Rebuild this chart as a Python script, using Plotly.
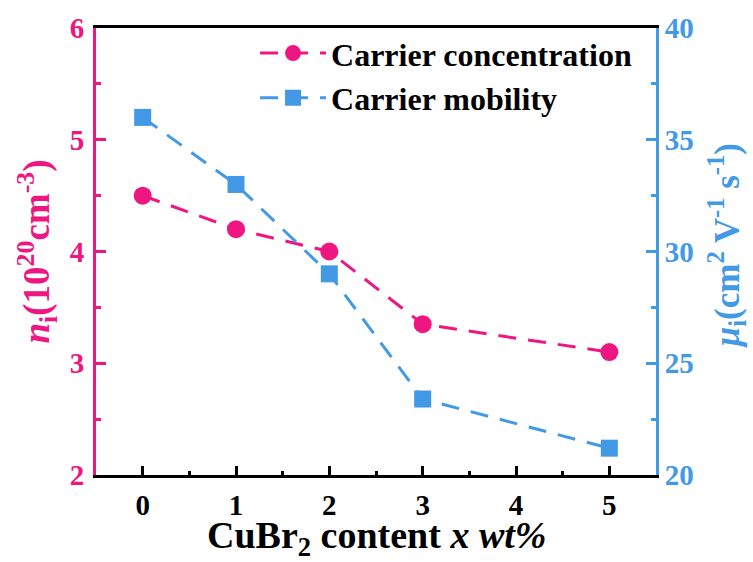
import plotly.graph_objects as go

x_content = [0, 1, 2, 3, 5]
carrier_conc = [4.5, 4.2, 4.0, 3.35, 3.1]
carrier_mob = [36.0, 33.0, 29.0, 23.4, 21.2]
x_ticks = [0, 1, 2, 3, 4, 5]
left_ticks = [2, 3, 4, 5, 6]
right_ticks = [20, 25, 30, 35, 40]

PINK = "#EE1680"
BLUE = "#4299E6"
FONT = "Liberation Serif"

fig = go.Figure()
fig.add_trace(go.Scatter(
    x=x_content, y=carrier_conc, name="Carrier concentration",
    mode="lines+markers",
    line=dict(color=PINK, width=3, dash="18px,12px"),
    marker=dict(symbol="circle", size=18, color=PINK),
    yaxis="y",
))
fig.add_trace(go.Scatter(
    x=x_content, y=carrier_mob, name="Carrier mobility",
    mode="lines+markers",
    line=dict(color=BLUE, width=3, dash="18px,12px"),
    marker=dict(symbol="square", size=17, color=BLUE),
    yaxis="y2",
))

fig.update_layout(
    width=753, height=562,
    margin=dict(l=96, r=97, t=23, b=87),
    plot_bgcolor="white", paper_bgcolor="white",
    font=dict(family=FONT, size=29, color="black", weight="bold"),
    showlegend=True,
    legend=dict(
        x=0.284, y=1.005, xanchor="left", yanchor="top",
        bgcolor="rgba(0,0,0,0)",
        font=dict(family=FONT, size=32, color="black", weight="bold"),
        tracegroupgap=0, itemwidth=66,
    ),
    xaxis=dict(
        range=[-0.5, 5.5], tickmode="array", tickvals=x_ticks,
        ticktext=[str(v) for v in x_ticks],
        ticks="inside", ticklen=9, tickwidth=3, tickcolor="black",
        showline=True, linecolor="black", linewidth=3, mirror=True,
        showgrid=False, zeroline=False, ticklabelstandoff=2,
        tickfont=dict(family=FONT, size=29, color="black", weight="bold"),
        minor=dict(dtick=0.5, tick0=0.5, ticks="inside", ticklen=4, tickwidth=3, tickcolor="black"),
    ),
    yaxis=dict(
        range=[2, 6], tickmode="array", tickvals=left_ticks,
        ticktext=[str(v) for v in left_ticks],
        ticks="inside", ticklen=10, tickwidth=3, tickcolor=PINK,
        showline=True, linecolor=PINK, linewidth=3,
        showgrid=False, zeroline=False, ticklabelstandoff=3,
        tickfont=dict(family=FONT, size=29, color=PINK, weight="bold"),
        minor=dict(dtick=0.5, tick0=2.5, ticks="inside", ticklen=5, tickwidth=3, tickcolor=PINK),
    ),
    yaxis2=dict(
        range=[20, 40], tickmode="array", tickvals=right_ticks,
        ticktext=[str(v) for v in right_ticks],
        overlaying="y", side="right",
        ticks="inside", ticklen=10, tickwidth=3, tickcolor=BLUE,
        showline=True, linecolor=BLUE, linewidth=3,
        showgrid=False, zeroline=False,
        tickfont=dict(family=FONT, size=29, color=BLUE, weight="bold"),
        minor=dict(dtick=2.5, tick0=22.5, ticks="inside", ticklen=5, tickwidth=3, tickcolor=BLUE),
    ),
    annotations=[
        dict(text="<i>n</i><sub>i</sub>(10<sup>20</sup>cm<sup>-3</sup>)",
             xref="paper", yref="paper", x=-0.107, y=0.5, xanchor="center", yanchor="middle",
             textangle=-90, showarrow=False,
             font=dict(family=FONT, size=37, color=PINK, weight="bold")),
        dict(text="<i>μ</i><sub>i</sub>(cm<sup>2</sup> V<sup>-1</sup> s<sup>-1</sup>)",
             xref="paper", yref="paper", x=1.126, y=0.513, xanchor="center", yanchor="middle",
             textangle=-90, showarrow=False,
             font=dict(family=FONT, size=35, color=BLUE, weight="bold")),
        dict(text="CuBr<sub>2</sub> content <i>x wt%</i>",
             xref="paper", yref="paper", x=0.5, y=-0.142, xanchor="center", yanchor="middle",
             showarrow=False,
             font=dict(family=FONT, size=38, color="black", weight="bold")),
    ],
)

fig.write_html("out.html")
